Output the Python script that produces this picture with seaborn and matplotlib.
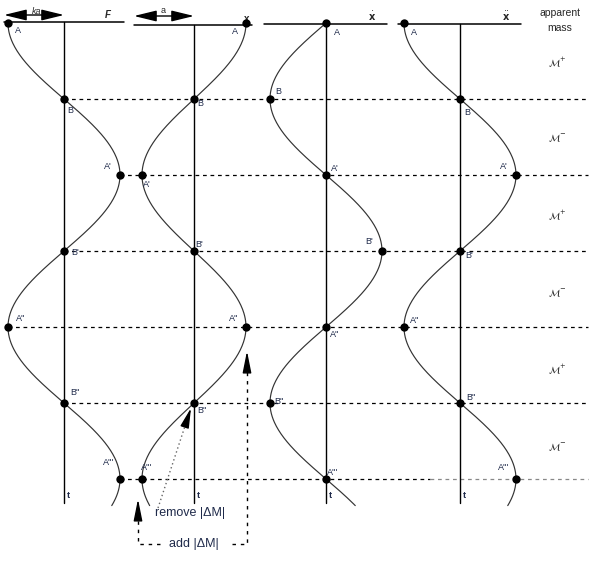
import numpy as np
import pandas as pd
import seaborn as sns
import matplotlib.pyplot as plt

sns.set_theme(style="white")
plt.rcParams['font.family'] = ['Liberation Sans', 'DejaVu Sans']

# phase points, in quarter periods from the top
levels = [0, 1, 2, 3, 4, 5, 6]
point_names = ["A", "B", "A'", "B'", "A''", "B''", "A'''"]

# signal values at each labelled point (units of amplitude)
F_vals = [-1, 0, 1, 0, -1, 0, 1]
x_vals = [1, 0, -1, 0, 1, 0, -1]
xdot_vals = [0, -1, 0, 1, 0, -1, 0]
xddot_vals = [-1, 0, 1, 0, -1, 0, 1]

# apparent mass sign between the levels
mass_signs = ["+", "-", "+", "-", "+", "-"]

# layout (pixels)
T0, DT = 23, 76
centers = [64, 194, 326, 460]
amps = [56, 52, 56, 56]
tops = [22, 25, 23.5, 23.5]
top_lines = [(4, 124), (134, 252), (264, 387), (398, 521)]
axis_bottom = 503
t_end = 6.35

# curve shape of each panel (harmonic motion)
shapes = [lambda t: -np.cos(np.pi * t / 2),
          lambda t: np.cos(np.pi * t / 2),
          lambda t: -np.sin(np.pi * t / 2),
          lambda t: -np.cos(np.pi * t / 2)]
panel_vals = [F_vals, x_vals, xdot_vals, xddot_vals]

label_offsets = [
    [(10, 7), (6, 11), (-12, -9), (11, 1), (13, -9), (11, -11), (-11, -17)],
    [(-11, 8), (6, 4), (5, 9), (5, -7), (-12, -9), (8, 7), (5, -12)],
    [(11, 9), (8, -8), (9, -7), (-13, -10), (9, 7), (9, -2), (7, -7)],
    [(10, 9), (7, 13), (-12, -9), (9, 4), (11, -7), (11, -6), (-12, -12)],
]

fig = plt.figure(figsize=(5.91, 5.61), dpi=100)
ax = fig.add_axes([0, 0, 1, 1])
ax.set_xlim(0, 591)
ax.set_ylim(561, 0)
ax.axis('off')

lab_col = '#1f2a4a'

# dashed level lines, starting at the left-most point of the row
for lv, v in zip(levels[1:], F_vals[1:]):
    y = T0 + DT * lv
    x0 = centers[0] + amps[0] * v
    if lv == 6:
        ax.plot([x0, 430], [y, y], color='black', lw=0.9, ls=(0, (3, 3)))
        ax.plot([430, 588], [y, y], color='#888888', lw=0.9, ls=(0, (3, 3)))
    else:
        ax.plot([x0, 588], [y, y], color='black', lw=0.9, ls=(0, (3, 3)))

# axes of each panel
for c, top, (l, r) in zip(centers, tops, top_lines):
    ax.plot([l, r], [top, top], color='black', lw=1.1)
    ax.plot([c, c], [top, axis_bottom], color='black', lw=1.0)
    ax.text(c + 3, axis_bottom - 8, "t", fontsize=6.5, fontweight='bold',
            color=lab_col, ha='left', va='center')

# curves
tt = np.linspace(0, t_end, 500)
rows = []
for i, f in enumerate(shapes):
    rows.append(pd.DataFrame({"px": centers[i] + amps[i] * f(tt),
                              "py": T0 + DT * tt, "panel": i}))
curves = pd.concat(rows)
sns.lineplot(data=curves, x="px", y="py", units="panel", estimator=None,
             sort=False, color='#333333', lw=0.85, ax=ax, legend=False)

# labelled points
for i, vals in enumerate(panel_vals):
    px = [centers[i] + amps[i] * v for v in vals]
    py = [T0 + DT * lv for lv in levels]
    sns.scatterplot(x=px, y=py, s=36, color='black', linewidth=0, ax=ax,
                    legend=False, zorder=5)
    for name, x, y, (dx, dy) in zip(point_names, px, py, label_offsets[i]):
        ax.text(x + dx, y + dy, name, fontsize=6.5, color=lab_col,
                ha='center', va='center')

# panel titles
ax.text(108, 15, "F", fontsize=7, fontstyle='italic', fontweight='bold',
        ha='center', va='center')
ax.text(247, 19, "x", fontsize=7, fontweight='bold', ha='center', va='center')
ax.text(372, 16, r"$\dot{\mathbf{x}}$", fontsize=7, ha='center', va='center')
ax.text(506, 16, r"$\ddot{\mathbf{x}}$", fontsize=7, ha='center', va='center')

# amplitude arrows
arrow_kw = dict(arrowstyle='<|-|>,head_length=1.15,head_width=0.28',
                color='black', lw=1.0, shrinkA=0, shrinkB=0)
ax.annotate("", xy=(4, 15), xytext=(64, 15), arrowprops=arrow_kw)
ax.annotate("", xy=(134, 16), xytext=(194, 16), arrowprops=arrow_kw)
ax.text(37, 11, "ka", fontsize=6.5, fontstyle='italic', ha='center', va='center')
ax.text(163, 10, "a", fontsize=6.5, ha='center', va='center')

# apparent mass column
ax.text(560, 13, "apparent", fontsize=7.5, ha='center', va='center')
ax.text(560, 28, "mass", fontsize=7.5, ha='center', va='center')
mass_y = [62, 138, 215, 293, 369, 447]
for s, y in zip(mass_signs, mass_y):
    ax.text(557, y, r"$\mathcal{M}^{%s}$" % s, fontsize=7,
            ha='center', va='center')

# add / remove mass annotations
ax.plot([158, 187], [508, 420], color='#666666', lw=1.0, ls=(0, (1, 2)))
ax.annotate("", xy=(191, 408), xytext=(187, 420),
            arrowprops=dict(arrowstyle='-|>,head_length=1.0,head_width=0.22',
                            color='black', lw=1.0, shrinkA=0, shrinkB=0))
ax.text(190, 513, "remove |ΔM|", fontsize=9, color=lab_col,
        ha='center', va='center')
ax.text(194, 544, "add |ΔM|", fontsize=9, color=lab_col,
        ha='center', va='center')
dash = (0, (2.5, 3.5))
ax.plot([160, 138, 138], [544, 544, 512], color='black', lw=1.0, ls=dash)
ax.plot([232, 247, 247], [544, 544, 364], color='black', lw=1.0, ls=dash)
head_kw = dict(arrowstyle='-|>,head_length=1.1,head_width=0.22',
               color='black', lw=1.0, shrinkA=0, shrinkB=0)
ax.annotate("", xy=(138, 499), xytext=(138, 512), arrowprops=head_kw)
ax.annotate("", xy=(247, 351), xytext=(247, 364), arrowprops=head_kw)

fig.savefig("out.png", dpi=100)
